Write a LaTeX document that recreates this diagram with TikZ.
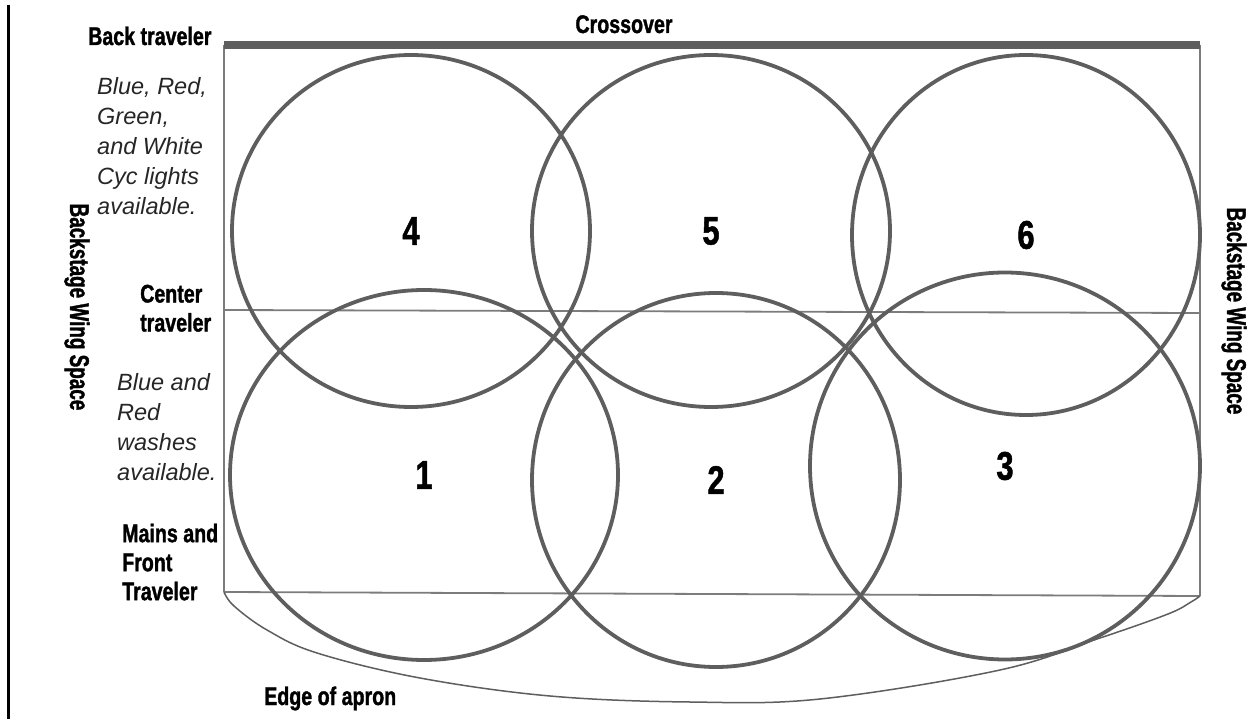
\documentclass[tikz,border=0pt]{standalone}
\usepackage{fontspec}
\setmainfont{Liberation Sans}
\newfontfamily\condfont{Liberation Sans}[FakeStretch=0.77, BoldFeatures={FakeBold=1.3}]
\newfontfamily\wingfont{Liberation Sans}[FakeStretch=0.7, BoldFeatures={FakeBold=1.3}]
\usetikzlibrary{shapes.geometric}
\definecolor{ringgray}{HTML}{5E5E5E}
\definecolor{linegray}{HTML}{7C7C7C}
\tikzset{
  ring/.style={ellipse, draw=ringgray, line width=3.8pt, inner sep=0pt,
    font=\condfont\bfseries\fontsize{40}{40}\selectfont},
  stageline/.style={draw=linegray, line width=1.8pt},
  lbl/.style={inner sep=0pt, font=\condfont\bfseries\fontsize{25.5}{29}\selectfont, align=left},
  winglbl/.style={inner sep=0pt, font=\wingfont\bfseries\fontsize{27}{29}\selectfont},
  note/.style={inner sep=0pt, font=\itshape\fontsize{23.5}{30}\selectfont, align=left, text=black!85},
}
\begin{document}
\begin{tikzpicture}[x=1pt,y=-1pt]
\useasboundingbox (0,0) rectangle (1251,719);
% left border
\coordinate (bt) at (8,5);
\coordinate (bb) at (8,719);
\draw[black, line width=3pt] (bt) -- (bb);
% stage outline
\coordinate (tl) at (224,45);
\coordinate (tr) at (1200,45);
\coordinate (cl) at (224,310);
\coordinate (cr) at (1200,313);
\coordinate (fl) at (224,592);
\coordinate (fr) at (1200,596);
\draw[stageline] (tl) -- (fl);
\draw[stageline] (tr) -- (fr);
\draw[stageline] (cl) -- (cr);
\draw[stageline] (fl) -- (fr);
\draw[ringgray, line width=8.5pt] (tl) -- (tr);
% apron edge
\draw[ringgray, line width=1.5pt] plot[smooth, tension=0.6] coordinates
  {(fl) (234,606) (267,630) (317,653) (420,678) (550,696) (690,702) (820,699) (1000,670) (1100,638) (1168,614) (1191,602) (fr)};
% circles
\node[ring, minimum width=358pt, minimum height=352pt] (c4) at (411,231) {4};
\node[ring, minimum width=358pt, minimum height=352pt] (c5) at (711,231) {5};
\node[ring, minimum width=348pt, minimum height=360pt] (c6) at (1026,235) {6};
\node[ring, minimum width=388pt, minimum height=370pt] (c1) at (424,475) {1};
\node[ring, minimum width=368pt, minimum height=374pt] (c2) at (716,480) {2};
\node[ring, minimum width=390pt, minimum height=387pt] (c3) at (1005,466) {3};
% labels
\node[lbl, anchor=base west] (back) at (88,45) {Back traveler};
\node[lbl, anchor=base] (cross) at (624,33) {Crossover};
\node[lbl, anchor=north west] (center) at (140,284.5) {Center\\traveler};
\node[lbl, anchor=north west] (mains) at (122,523.5) {Mains and\\Front\\Traveler};
\node[lbl, anchor=base west] (apron) at (264,705) {Edge of apron};
\node[winglbl, rotate=-90] (wingl) at (77,307) {Backstage Wing Space};
\node[winglbl, rotate=-90] (wingr) at (1234,311) {Backstage Wing Space};
\node[note, anchor=north west] (cyc) at (97,77) {Blue, Red,\\Green,\\and White\\Cyc lights\\available.};
\node[note, anchor=north west] (wash) at (117,373) {Blue and\\Red\\washes\\available.};
\end{tikzpicture}
\end{document}
